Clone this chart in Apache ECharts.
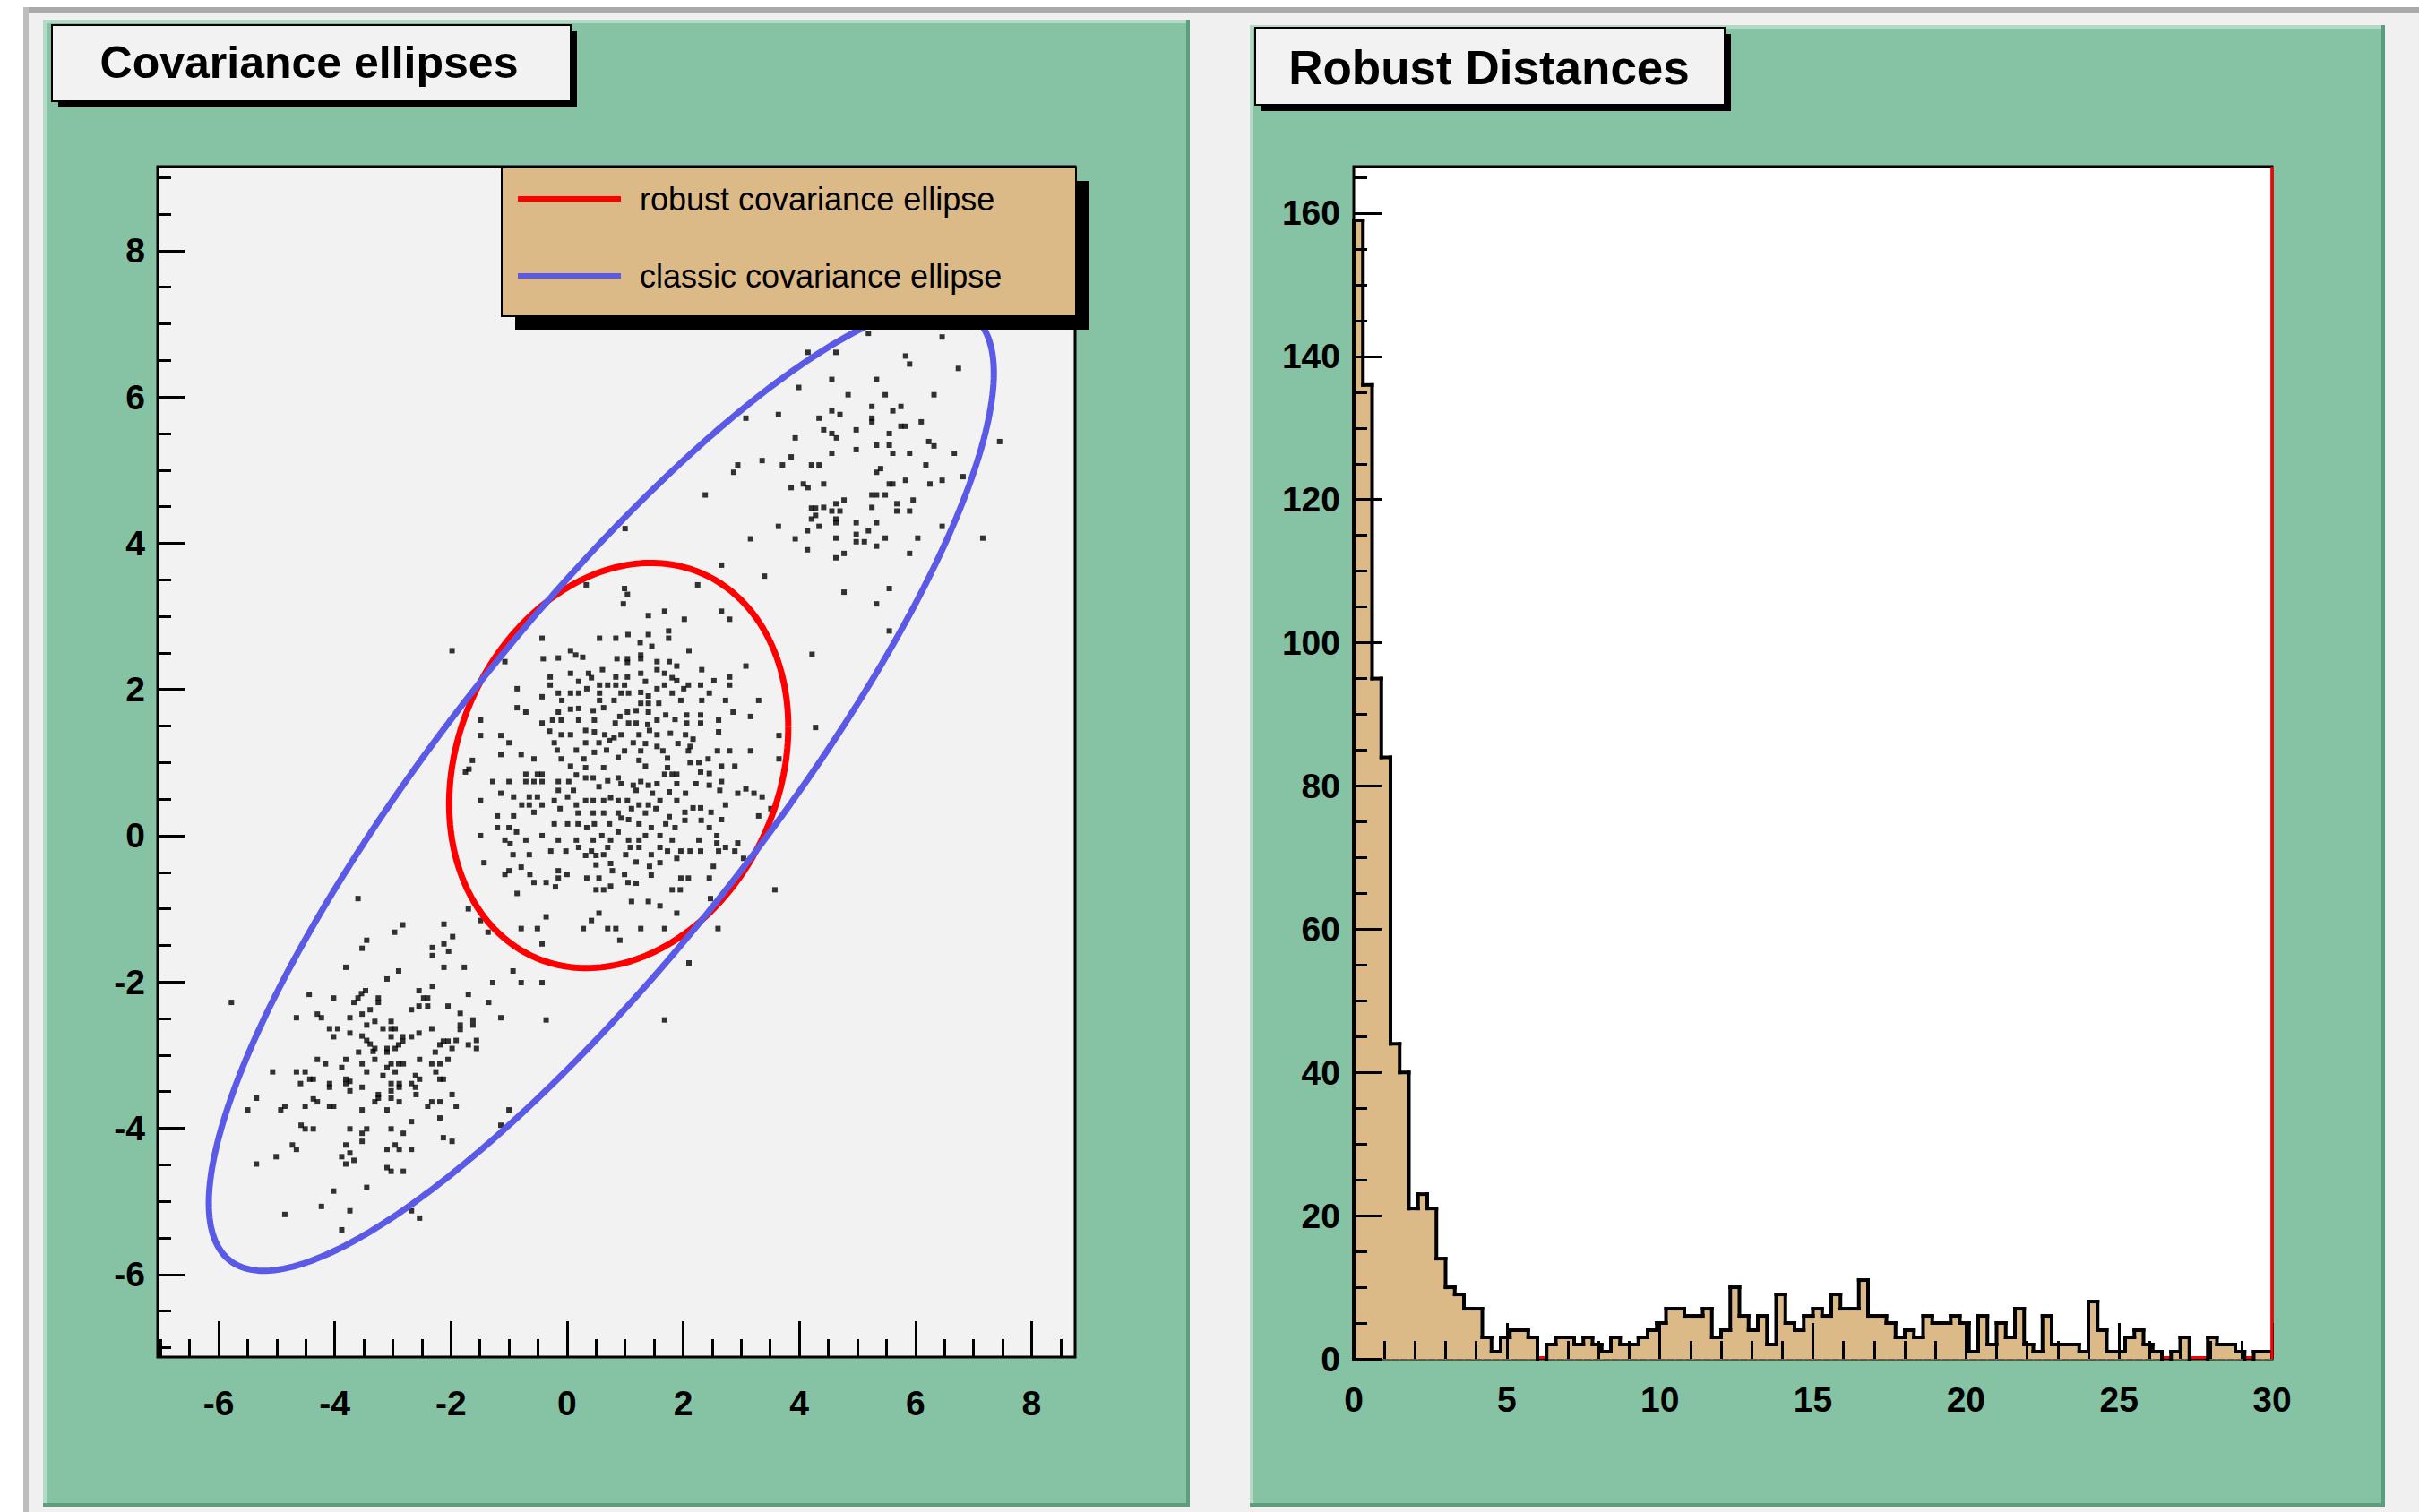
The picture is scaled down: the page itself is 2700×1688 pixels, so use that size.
<!DOCTYPE html>
<html>
<head>
<meta charset="utf-8">
<script src="https://cdn.jsdelivr.net/npm/echarts@6/dist/echarts.min.js"></script>
<style>
html,body{margin:0;padding:0;background:#ffffff;}
#chart{width:2700px;height:1688px;}
</style>
</head>
<body>
<div id="chart"></div>
<script>
// ================= DATA =================
// Scatter points (x, y), grouped by region
const pointsUpperCluster = [
[5.19,6.87],[6.46,6.82],[4.15,6.61],[4.63,6.61],[5.83,6.56],[5.90,6.45],[6.74,6.39],[4.56,6.24],[5.33,6.24],[3.99,6.13],
[4.84,6.03],[5.48,6.03],[6.32,6.03],[5.25,5.87],[5.75,5.87],[4.56,5.81],[4.70,5.76],[5.61,5.81],[3.08,5.71],[3.64,5.76],
[4.34,5.71],[5.25,5.71],[5.25,5.66],[6.10,5.66],[5.75,5.60],[5.82,5.60],[4.42,5.55],[4.98,5.55],[4.56,5.50],[4.64,5.44],
[5.55,5.50],[3.93,5.44],[6.23,5.39],[6.32,5.33],[5.33,5.34],[5.55,5.34],[7.45,5.39],[4.56,5.23],[4.98,5.28],[5.61,5.23],
[5.90,5.23],[6.67,5.23],[3.86,5.18],[3.36,5.13],[2.94,5.07],[3.71,5.07],[4.21,5.07],[4.34,5.07],[6.18,5.07],[2.87,4.97],
[5.33,4.97],[5.40,5.02],[6.82,4.91],[4.07,4.81],[4.15,4.76],[4.42,4.81],[3.86,4.76],[5.55,4.81],[5.61,4.81],[5.83,4.86],
[6.25,4.81],[6.46,4.86],[2.38,4.66],[5.25,4.66],[5.33,4.66],[5.48,4.66],[4.77,4.59],[4.63,4.54],[4.21,4.48],[4.28,4.48],
[4.42,4.49],[4.56,4.44],[4.70,4.44],[5.25,4.49],[5.68,4.54],[5.96,4.59],[5.68,4.44],[5.90,4.44],[4.28,4.38],[4.21,4.33],
[4.63,4.33],[4.63,4.28],[4.98,4.28],[5.33,4.28],[3.64,4.23],[4.34,4.23],[4.14,4.17],[5.19,4.17],[6.46,4.23],[4.63,4.07],
[4.98,4.12],[4.98,4.02],[5.12,4.02],[5.48,4.07],[6.04,4.07],[7.16,4.07],[5.33,3.96],[4.77,3.86],[4.63,3.80],[5.90,3.86],
[4.77,3.33],[5.55,3.38],[5.33,3.17],[5.55,2.80],[1.00,4.20]
];
const pointsLowerCluster = [
[-3.60,-0.86],[-2.83,-1.22],[-2.97,-1.32],[-3.45,-1.43],[-3.53,-1.54],[-3.81,-1.80],[-2.90,-1.85],[-3.10,-1.96],[-2.55,-2.12],[-4.44,-2.17],
[-4.02,-2.22],[-5.78,-2.28],[-3.47,-2.12],[-3.54,-2.16],[-3.60,-2.22],[-3.67,-2.28],[-3.25,-2.22],[-3.25,-2.28],[-2.47,-2.22],[-2.40,-2.22],
[-2.55,-2.33],[-2.40,-2.33],[-3.39,-2.38],[-3.53,-2.44],[-2.68,-2.38],[-4.30,-2.44],[-4.23,-2.49],[-4.66,-2.49],[-3.74,-2.49],[-3.31,-2.54],
[-3.03,-2.54],[-3.45,-2.59],[-4.09,-2.64],[-3.95,-2.64],[-3.17,-2.64],[-3.03,-2.64],[-2.96,-2.64],[-2.33,-2.64],[-1.84,-2.59],[-1.84,-2.65],
[-1.62,-2.59],[-4.02,-2.75],[-3.74,-2.70],[-3.53,-2.74],[-3.45,-2.80],[-3.39,-2.85],[-3.31,-2.91],[-3.34,-2.95],[-3.03,-2.75],[-2.83,-2.75],
[-2.83,-2.81],[-2.90,-2.86],[-2.68,-2.75],[-2.55,-2.70],[-2.96,-2.91],[-3.10,-2.91],[-3.10,-2.96],[-1.98,-2.91],[-2.05,-2.81],[-2.13,-2.81],
[-2.19,-2.86],[-1.91,-2.80],[-1.70,-2.86],[-1.56,-2.80],[-1.56,-2.91],[-2.27,-2.96],[-3.59,-2.96],[-4.30,-3.06],[-4.16,-3.12],[-3.81,-3.06],
[-3.53,-3.12],[-3.31,-3.06],[-3.88,-3.17],[-3.45,-3.23],[-3.03,-3.12],[-2.90,-3.12],[-2.82,-3.12],[-3.10,-3.17],[-2.96,-3.23],[-2.54,-3.06],
[-2.33,-3.12],[-2.19,-3.12],[-2.05,-3.06],[-2.26,-3.23],[-5.07,-3.23],[-4.66,-3.23],[-4.51,-3.23],[-4.43,-3.33],[-4.37,-3.33],[-4.59,-3.39],
[-4.09,-3.39],[-4.09,-3.44],[-3.81,-3.33],[-3.74,-3.36],[-3.81,-3.39],[-3.53,-3.44],[-3.74,-3.49],[-3.17,-3.28],[-3.03,-3.39],[-3.03,-3.49],
[-2.89,-3.39],[-2.89,-3.44],[-2.61,-3.28],[-2.54,-3.33],[-2.68,-3.39],[-2.61,-3.44],[-2.60,-3.54],[-2.19,-3.33],[-2.13,-3.33],[-1.98,-3.54],
[-5.35,-3.59],[-5.50,-3.75],[-4.93,-3.75],[-4.86,-3.70],[-4.51,-3.70],[-4.37,-3.60],[-4.30,-3.64],[-4.09,-3.70],[-4.02,-3.70],[-3.53,-3.75],
[-3.31,-3.64],[-3.25,-3.54],[-3.25,-3.59],[-3.10,-3.75],[-3.03,-3.59],[-2.89,-3.64],[-2.40,-3.70],[-2.33,-3.64],[-2.19,-3.64],[-1.91,-3.70],
[-2.19,-3.86],[-2.68,-3.91],[-1.00,-3.75],[-1.14,-3.96],[-4.58,-3.96],[-4.51,-4.01],[-4.37,-4.01],[-3.74,-4.01],[-3.45,-4.01],[-3.53,-4.07],
[-3.53,-4.18],[-3.03,-4.01],[-2.82,-4.07],[-3.81,-4.23],[-4.73,-4.23],[-4.66,-4.29],[-5.01,-4.39],[-3.74,-4.34],[-3.88,-4.39],[-3.67,-4.44],
[-3.81,-4.49],[-3.10,-4.29],[-2.96,-4.23],[-2.89,-4.29],[-2.68,-4.29],[-2.13,-4.13],[-1.98,-4.18],[-5.35,-4.49],[-3.10,-4.54],[-3.03,-4.59],
[-2.82,-4.59],[-3.45,-4.81],[-4.02,-4.86],[-4.23,-5.07],[-3.74,-5.13],[-4.86,-5.18],[-2.68,-5.13],[-2.54,-5.23],[-3.88,-5.39]
];
const pointsCoreUpper = [
[3.16,4.06],[3.93,4.06],[4.14,3.91],[2.66,3.70],[3.40,3.55],[2.25,3.43],[0.33,3.43],[0.99,3.38],[1.04,3.30],[0.97,3.17],
[1.68,3.07],[1.40,3.01],[2.66,3.07],[2.80,2.96],[2.02,2.96],[-1.98,2.53],[-0.43,2.70],[0.56,2.70],[0.84,2.70],[1.05,2.75],
[1.40,2.75],[1.75,2.80],[1.75,2.70],[1.26,2.64],[1.46,2.59],[2.10,2.53],[4.22,2.48],[0.06,2.53],[0.15,2.47],[0.27,2.44],
[-0.41,2.42],[-0.15,2.43],[-1.07,2.38],[0.86,2.42],[1.04,2.42],[1.04,2.37],[1.27,2.47],[1.27,2.42],[1.55,2.38],[1.76,2.38],
[1.89,2.32],[2.32,2.27],[3.08,2.32],[2.80,2.17],[2.80,2.06],[2.53,2.12],[2.30,2.06],[2.09,2.06],[-0.29,2.17],[0.06,2.22],
[0.37,2.22],[0.61,2.27],[0.42,2.16],[0.84,2.17],[1.04,2.17],[1.27,2.22],[1.55,2.27],[1.68,2.22],[1.81,2.16],[1.89,2.12],
[1.35,2.11],[-0.29,2.06],[-0.86,2.01],[0.20,2.11],[0.34,2.01],[0.56,2.06],[0.70,2.06],[0.84,2.06],[0.99,2.06],[0.93,1.95],
[1.06,1.95],[1.27,1.96],[1.40,1.91],[1.55,2.01],[1.68,2.06],[1.81,1.95],[2.01,2.01],[2.45,1.95],[-0.43,1.90],[-0.15,1.95],
[0.06,1.95],[0.20,1.95],[0.56,1.95],[-0.09,1.85],[0.56,1.85],[0.81,1.85],[1.27,1.81],[1.40,1.81],[1.58,1.81],[1.96,1.85],
[2.32,1.85],[2.73,1.85],[3.30,1.85],[-0.86,1.75],[-0.71,1.69],[-0.15,1.69],[0.06,1.73],[0.20,1.74],[0.45,1.71],[0.63,1.75],
[0.91,1.63],[1.04,1.69],[1.19,1.71],[1.40,1.69],[1.55,1.58],[1.70,1.65],[1.86,1.59],[2.06,1.65],[2.30,1.65],[2.61,1.58],
[2.86,1.69],[3.16,1.63],[4.28,1.48],[-1.49,1.58],[-0.43,1.54],[-0.25,1.58],[-0.10,1.58],[0.20,1.58],[0.47,1.58],[0.83,1.54],
[1.06,1.54],[1.19,1.54],[1.39,1.52],[2.06,1.54],[2.30,1.54],[2.61,1.42],[-1.49,1.37],[-1.14,1.37],[-1.00,1.27],[-0.30,1.43],
[-0.10,1.38],[0.06,1.38],[0.32,1.44],[0.47,1.42],[0.65,1.38],[0.81,1.34],[0.93,1.38],[1.24,1.38],[1.42,1.44],[1.55,1.38],
[1.78,1.40],[2.04,1.38],[2.17,1.32],[3.65,1.37],[-0.22,1.27],[0.32,1.27],[0.55,1.27],[0.73,1.30],[1.14,1.27],[1.35,1.26],
[1.55,1.22],[1.91,1.26],[2.12,1.22],[-1.14,1.11],[-0.79,1.11],[-0.57,1.05],[-1.63,1.03],[-0.17,1.17],[0.16,1.17],[0.47,1.14],
[0.68,1.17],[0.99,1.16],[1.27,1.16],[1.65,1.16],[2.09,1.16],[2.59,1.16],[2.80,1.16],[3.16,1.16],[3.65,1.05],[-0.10,1.05],
[0.29,1.05],[0.88,1.07],[1.24,1.03],[1.73,1.06],[2.12,1.00],[2.27,1.00],[2.43,1.05],[2.66,0.95],[2.89,0.95],[-1.69,0.91],
[0.06,0.95],[0.32,0.93],[0.63,0.93],[1.35,0.95],[1.73,0.93]
];
const pointsCoreLower = [
[-1.75,0.87],[-1.28,0.74],[-1.00,0.74],[-0.71,0.84],[-0.51,0.84],[-0.43,0.84],[-0.71,0.74],[-0.57,0.74],[-0.43,0.74],[-0.15,0.74],
[0.03,0.74],[0.16,0.83],[0.32,0.79],[0.45,0.79],[0.55,0.67],[0.70,0.75],[0.88,0.79],[0.93,0.71],[1.14,0.69],[1.27,0.74],
[1.40,0.69],[1.55,0.71],[1.68,0.84],[1.81,0.84],[1.89,0.84],[1.89,0.71],[2.30,0.87],[2.45,0.85],[2.22,0.71],[2.45,0.69],
[2.66,0.74],[2.63,0.62],[-0.15,0.62],[0.11,0.62],[1.19,0.62],[1.47,0.58],[1.76,0.60],[2.04,0.58],[2.94,0.58],[3.08,0.64],
[3.22,0.58],[3.36,0.53],[-1.14,0.58],[-1.49,0.48],[-0.92,0.53],[-0.78,0.42],[-0.65,0.53],[-0.51,0.53],[-0.65,0.42],[-0.43,0.42],
[-0.22,0.48],[0.01,0.53],[0.16,0.42],[0.32,0.48],[0.45,0.48],[0.63,0.48],[0.75,0.52],[0.88,0.48],[1.04,0.48],[1.24,0.42],
[1.40,0.42],[1.60,0.48],[1.89,0.48],[2.73,0.42],[3.51,0.37],[3.30,0.27],[2.17,0.38],[2.30,0.38],[2.48,0.32],[2.66,0.22],
[-0.12,0.37],[0.19,0.31],[0.45,0.31],[0.63,0.31],[0.88,0.31],[1.11,0.37],[1.35,0.31],[1.53,0.37],[1.76,0.26],[2.03,0.32],
[2.03,0.21],[2.31,0.21],[-1.20,0.27],[-0.92,0.27],[-0.57,0.32],[-0.22,0.16],[0.01,0.16],[0.19,0.16],[0.34,0.11],[0.47,0.16],
[0.73,0.16],[0.93,0.24],[1.06,0.22],[1.24,0.16],[1.45,0.11],[1.70,0.16],[1.86,0.11],[2.45,0.11],[-1.20,0.11],[-1.00,0.11],
[-0.87,0.05],[-1.49,0.00],[-0.43,0.00],[-0.71,-0.06],[-1.07,-0.06],[-0.98,-0.11],[-0.15,-0.06],[0.16,-0.06],[0.45,-0.06],[0.60,0.00],
[0.75,-0.06],[0.88,0.05],[1.06,-0.06],[1.24,-0.06],[1.35,0.00],[1.60,0.00],[1.81,-0.06],[2.27,-0.06],[2.58,0.00],[2.58,-0.10],
[2.94,-0.10],[-1.43,-0.37],[-0.93,-0.26],[-0.65,-0.26],[-0.28,-0.21],[-0.02,-0.21],[0.20,-0.16],[0.42,-0.21],[0.32,-0.27],[0.50,-0.27],
[0.63,-0.26],[0.70,-0.16],[1.01,-0.26],[1.09,-0.16],[1.24,-0.16],[1.19,-0.36],[1.45,-0.26],[1.60,-0.16],[1.73,-0.21],[1.96,-0.21],
[2.12,-0.21],[2.30,-0.21],[2.61,-0.21],[2.73,-0.16],[2.89,-0.21],[3.04,-0.31],[1.60,-0.37],[1.89,-0.31],[-0.79,-0.43],[-1.07,-0.53],
[-1.00,-0.48],[-0.15,-0.48],[-0.15,-0.58],[0.00,-0.53],[-0.64,-0.53],[0.34,-0.58],[0.55,-0.58],[0.50,-0.40],[0.75,-0.38],[0.78,-0.48],
[0.99,-0.53],[1.42,-0.42],[1.45,-0.54],[1.96,-0.58],[2.09,-0.58],[2.45,-0.58],[2.52,-0.42],[-0.57,-0.64],[-0.36,-0.64],[-0.20,-0.70],
[0.50,-0.74],[0.63,-0.74],[0.75,-0.69],[1.05,-0.64],[1.19,-0.65],[1.81,-0.74],[1.95,-0.74],[-0.86,-0.79],[3.58,-0.74],[2.47,-0.86],
[1.11,-0.90],[1.40,-0.90],[1.60,-0.96],[1.89,-1.06],[-1.70,-1.00],[-1.49,-1.16],[-1.36,-1.32],[-2.12,-1.21],[-1.97,-1.38],[-2.12,-1.48],
[-2.04,-1.58],[-2.32,-1.53],[-2.32,-1.64],[-0.36,-1.11],[0.42,-1.16],[0.55,-1.06],[-0.79,-1.27],[-0.51,-1.27],[0.28,-1.27],[0.70,-1.27],
[0.84,-1.27],[1.27,-1.27],[1.68,-1.27],[2.60,-1.27],[-0.43,-1.48],[0.91,-1.43],[2.10,-1.74],[-2.12,-1.80],[-1.77,-1.80],[-0.93,-1.85],
[-1.28,-2.01],[-0.79,-2.01],[-0.43,-2.01],[-2.32,-2.06],[-1.70,-2.17],[-1.35,-2.28],[-2.05,-2.33],[-1.84,-2.43],[-1.62,-2.52],[-1.14,-2.49],
[-0.36,-2.52],[1.68,-2.52]
];

// Covariance ellipses: centre, half extents along x and y, correlation
const robustCenter = [0.89, 0.96];
const robustHalfExtent = [2.92, 2.77];
const robustCorrelation = 0.19;
const classicCenter = [0.59, 0.65];
const classicHalfExtent = [6.76, 6.60];
const classicCorrelation = 0.86;

// Scatter axes
const scatterXRange = [-7.05, 8.75];
const scatterYRange = [-7.13, 9.15];
const scatterXMajorTicks = [-6, -4, -2, 0, 2, 4, 6, 8];
const scatterXMinorTicks = [-7, -6.5, -5.5, -5, -4.5, -3.5, -3, -2.5, -1.5, -1, -0.5, 0.5, 1, 1.5, 2.5, 3, 3.5, 4.5, 5, 5.5, 6.5, 7, 7.5, 8.5];
const scatterYMajorTicks = [-6, -4, -2, 0, 2, 4, 6, 8];
const scatterYMinorTicks = [-7, -6.5, -5.5, -5, -4.5, -3.5, -3, -2.5, -1.5, -1, -0.5, 0.5, 1, 1.5, 2.5, 3, 3.5, 4.5, 5, 5.5, 6.5, 7, 7.5, 8.5, 9];

// Robust distance histogram: 100 bins on [0, 30]
const histRange = [0, 30];
const histCounts = [
159,136,95,84,44,40,21,23,21,14,
10,9,7,7,3,1,3,4,4,3,
0,2,3,3,2,3,2,1,3,2,
2,3,4,5,7,7,6,6,7,3,
4,10,6,4,6,2,9,5,4,6,
7,6,9,7,7,11,6,6,5,3,
4,3,6,5,5,6,5,1,6,2,
5,3,7,2,1,6,2,2,2,1,
8,4,1,1,3,4,2,1,0,1,
3,0,0,3,2,2,1,0,1,1
];
const histYMax = 166.5;
const histXMajorTicks = [0, 5, 10, 15, 20, 25, 30];
const histXMinorTicks = [1,2,3,4,6,7,8,9,11,12,13,14,16,17,18,19,21,22,23,24,26,27,28,29];
const histYMajorTicks = [0, 20, 40, 60, 80, 100, 120, 140, 160];
const histYMinorTicks = [5,10,15,25,30,35,45,50,55,65,70,75,85,90,95,105,110,115,125,130,135,145,150,155,165];
const cutoffDistance = [30];

// ================= STYLE =================
const FONT = '"Liberation Sans", Arial, Helvetica, sans-serif';
const PAD_GREEN = '#86c2a4';
const HIST_FILL = '#dcba88';
const FRAME_GRAY = '#f2f2f2';

// ellipse outline from its parameters
function ellipseOutline(center, half, rho, steps) {
  const out = [];
  const s = Math.sqrt(1 - rho * rho);
  for (let i = 0; i <= steps; i++) {
    const t = 2 * Math.PI * i / steps;
    out.push([center[0] + half[0] * Math.cos(t),
              center[1] + half[1] * (rho * Math.cos(t) + s * Math.sin(t))]);
  }
  return out;
}

const binWidth = (histRange[1] - histRange[0]) / histCounts.length;
const histData = histCounts.map((c, i) => [
  histRange[0] + i * binWidth,
  histRange[0] + (i + 1) * binWidth,
  c,
  i > 0 ? histCounts[i - 1] : 0,
  i === histCounts.length - 1 ? 1 : 0
]);

function renderHistBin(params, api) {
  const x0 = api.value(0), x1 = api.value(1), c = api.value(2), prev = api.value(3), last = api.value(4);
  const bl = api.coord([x0, 0]);
  const tr = api.coord([x1, c]);
  const pv = api.coord([x0, prev]);
  const lw = 4;
  const children = [];
  if (c > 0) {
    children.push({type: 'rect', z2: 0, shape: {x: bl[0] - 0.6, y: tr[1], width: tr[0] - bl[0] + 1.2, height: bl[1] - tr[1]},
                   style: {fill: HIST_FILL, stroke: HIST_FILL, lineWidth: 1}});
    children.push({type: 'line', z2: 2, shape: {x1: bl[0], y1: tr[1], x2: tr[0], y2: tr[1]},
                   style: {stroke: '#000', lineWidth: lw, lineCap: 'square'}});
  }
  if (prev !== c) {
    children.push({type: 'line', z2: 2, shape: {x1: bl[0], y1: pv[1], x2: bl[0], y2: tr[1]},
                   style: {stroke: '#000', lineWidth: lw, lineCap: 'square'}});
  }
  if (last && c > 0) {
    children.push({type: 'line', z2: 2, shape: {x1: tr[0], y1: tr[1], x2: tr[0], y2: bl[1]},
                   style: {stroke: '#000', lineWidth: lw}});
  }
  return {type: 'group', children};
}

function renderBaseline(params, api) {
  const a = api.coord([histRange[0], 0]);
  const b = api.coord([histRange[1], 0]);
  return {type: 'line', shape: {x1: a[0], y1: a[1] - 1.5, x2: b[0], y2: b[1] - 1.5},
          style: {stroke: '#ff0000', lineWidth: 3}};
}
function renderCutoff(params, api) {
  const x = api.value(0);
  const a = api.coord([x, 0]);
  const b = api.coord([x, histYMax]);
  return {type: 'line', shape: {x1: a[0], y1: a[1], x2: b[0], y2: b[1]},
          style: {stroke: '#ff0000', lineWidth: 3}};
}

const labelStyle = {fontSize: 39, fontWeight: 'bold', color: '#000', fontFamily: FONT};
function majorAxis(gridIndex, range, ticks, tickLen, margin, position) {
  return {
    gridIndex, type: 'value', min: range[0], max: range[1], position, z: 5, offset: 0,
    axisLine: {show: false, onZero: false}, splitLine: {show: false},
    axisTick: {show: true, inside: true, length: tickLen, customValues: ticks, lineStyle: {color: '#000', width: 3}},
    axisLabel: Object.assign({show: true, customValues: ticks, margin, hideOverlap: false}, labelStyle)
  };
}
function minorAxis(gridIndex, range, ticks, tickLen, position) {
  return {
    gridIndex, type: 'value', min: range[0], max: range[1], position, z: 5, offset: 0,
    axisLine: {show: false, onZero: false}, splitLine: {show: false}, axisLabel: {show: false},
    axisTick: {show: true, inside: true, length: tickLen, customValues: ticks, lineStyle: {color: '#000', width: 3}}
  };
}

const chart = echarts.init(document.getElementById('chart'), null, {renderer: 'svg', width: 2700, height: 1688});

const chrome = [
  // canvas
  {type: 'rect', z: -20, shape: {x: 26, y: 8, width: 2674, height: 1680}, style: {fill: '#f0f0f0'}},
  {type: 'rect', z: -19, shape: {x: 26, y: 8, width: 2674, height: 7}, style: {fill: '#a9a9a9'}},
  {type: 'rect', z: -19, shape: {x: 26, y: 8, width: 6, height: 1680}, style: {fill: '#bdbdbd'}},
  // left pad
  {type: 'rect', z: -18, shape: {x: 48, y: 22, width: 1280, height: 1660}, style: {fill: PAD_GREEN}},
  {type: 'rect', z: -17, shape: {x: 48, y: 22, width: 1280, height: 4}, style: {fill: '#b4dac7'}},
  {type: 'rect', z: -17, shape: {x: 48, y: 22, width: 4, height: 1660}, style: {fill: '#b4dac7'}},
  {type: 'rect', z: -17, shape: {x: 1324, y: 22, width: 4, height: 1660}, style: {fill: '#5d9d7e'}},
  {type: 'rect', z: -17, shape: {x: 48, y: 1678, width: 1280, height: 4}, style: {fill: '#5d9d7e'}},
  // right pad
  {type: 'rect', z: -18, shape: {x: 1395, y: 28, width: 1267, height: 1654}, style: {fill: PAD_GREEN}},
  {type: 'rect', z: -17, shape: {x: 1395, y: 28, width: 1267, height: 4}, style: {fill: '#b4dac7'}},
  {type: 'rect', z: -17, shape: {x: 1395, y: 28, width: 4, height: 1654}, style: {fill: '#b4dac7'}},
  {type: 'rect', z: -17, shape: {x: 2658, y: 28, width: 4, height: 1654}, style: {fill: '#5d9d7e'}},
  {type: 'rect', z: -17, shape: {x: 1395, y: 1678, width: 1267, height: 4}, style: {fill: '#5d9d7e'}},
  // title boxes with shadows
  {type: 'rect', z: 8, shape: {x: 65, y: 35, width: 579, height: 85}, style: {fill: '#000'}},
  {type: 'rect', z: 9, shape: {x: 58, y: 28, width: 579, height: 85}, style: {fill: FRAME_GRAY, stroke: '#000', lineWidth: 2}},
  {type: 'rect', z: 8, shape: {x: 1408, y: 38, width: 524, height: 86}, style: {fill: '#000'}},
  {type: 'rect', z: 9, shape: {x: 1401, y: 31, width: 524, height: 86}, style: {fill: FRAME_GRAY, stroke: '#000', lineWidth: 2}},
  // legend box with shadow
  {type: 'rect', z: 50, shape: {x: 575, y: 202, width: 641, height: 166}, style: {fill: '#000'}},
  {type: 'rect', z: 51, shape: {x: 560, y: 187, width: 641, height: 166}, style: {fill: HIST_FILL, stroke: '#000', lineWidth: 2}}
];

const option = {
  animation: false,
  backgroundColor: '#ffffff',
  title: [
    {text: 'Covariance ellipses', left: 345, top: 45, textAlign: 'center', padding: 0, z: 20,
     textStyle: {fontSize: 50, fontWeight: 'bold', fontFamily: FONT, color: '#000'}},
    {text: 'Robust Distances', left: 1662, top: 49, textAlign: 'center', padding: 0, z: 20,
     textStyle: {fontSize: 53, fontWeight: 'bold', fontFamily: FONT, color: '#000'}}
  ],
  legend: {
    data: ['robust covariance ellipse', 'classic covariance ellipse'],
    orient: 'vertical', left: 578, top: 204, padding: 0, itemGap: 50,
    itemWidth: 115, itemHeight: 6, icon: 'rect', selectedMode: false, z: 60,
    textStyle: {fontSize: 36, fontFamily: FONT, color: '#000', padding: [0, 0, 0, 16]}
  },
  graphic: chrome,
  grid: [
    {left: 176, top: 186, width: 1024, height: 1329, show: true, backgroundColor: FRAME_GRAY,
     borderColor: '#000', borderWidth: 3, containLabel: false},
    {left: 1511, top: 186, width: 1025, height: 1331, show: true, backgroundColor: '#ffffff',
     borderColor: '#000', borderWidth: 3, containLabel: false}
  ],
  xAxis: [
    majorAxis(0, scatterXRange, scatterXMajorTicks, 40, 32, 'bottom'),
    minorAxis(0, scatterXRange, scatterXMinorTicks, 20, 'bottom'),
    majorAxis(1, histRange, histXMajorTicks, 40, 26, 'bottom'),
    minorAxis(1, histRange, histXMinorTicks, 20, 'bottom')
  ],
  yAxis: [
    majorAxis(0, scatterYRange, scatterYMajorTicks, 30, 14, 'left'),
    minorAxis(0, scatterYRange, scatterYMinorTicks, 15, 'left'),
    majorAxis(1, [0, histYMax], histYMajorTicks, 31, 15, 'left'),
    minorAxis(1, [0, histYMax], histYMinorTicks, 15, 'left')
  ],
  series: [
    {name: 'points', type: 'scatter', xAxisIndex: 0, yAxisIndex: 0, silent: true, z: 2,
     symbol: 'rect', symbolSize: 6, itemStyle: {color: '#000'},
     data: [].concat(pointsUpperCluster, pointsLowerCluster, pointsCoreUpper, pointsCoreLower)},
    {name: 'robust covariance ellipse', type: 'line', xAxisIndex: 0, yAxisIndex: 0, silent: true, z: 3,
     showSymbol: false, symbol: 'none', color: '#ff0000', itemStyle: {color: '#ff0000'},
     lineStyle: {color: '#ff0000', width: 7},
     data: ellipseOutline(robustCenter, robustHalfExtent, robustCorrelation, 240)},
    {name: 'classic covariance ellipse', type: 'line', xAxisIndex: 0, yAxisIndex: 0, silent: true, z: 3,
     showSymbol: false, symbol: 'none', color: '#5a5ae6', itemStyle: {color: '#5a5ae6'},
     lineStyle: {color: '#5a5ae6', width: 7},
     data: ellipseOutline(classicCenter, classicHalfExtent, classicCorrelation, 300)},
    {name: 'baseline', type: 'custom', xAxisIndex: 2, yAxisIndex: 2, silent: true, z: 1, clip: false,
     renderItem: renderBaseline, data: [[histRange[0]]]},
    {name: 'Robust Distances', type: 'custom', xAxisIndex: 2, yAxisIndex: 2, silent: true, z: 2, clip: false,
     renderItem: renderHistBin, data: histData},
    {name: 'cutoff', type: 'custom', xAxisIndex: 2, yAxisIndex: 2, silent: true, z: 6, clip: false,
     renderItem: renderCutoff, data: cutoffDistance.map(v => [v])}
  ]
};
chart.setOption(option);
</script>
</body>
</html>
